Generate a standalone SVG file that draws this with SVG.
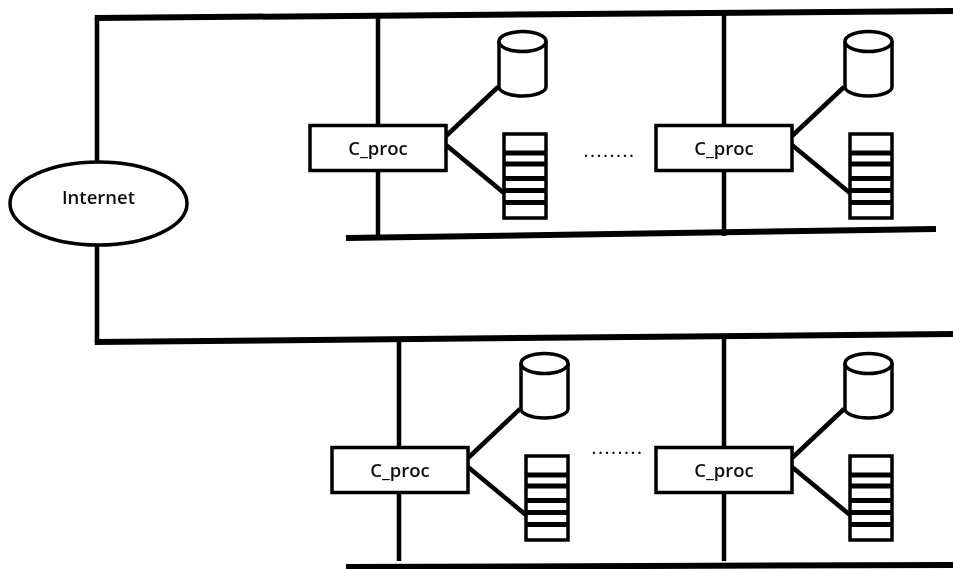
<svg xmlns="http://www.w3.org/2000/svg" width="953" height="569" viewBox="0 0 953 569">
  <defs>
    <filter id="soft" x="-5%" y="-5%" width="110%" height="110%"><feGaussianBlur stdDeviation="0.7"/></filter>
    <g id="db">
      <path class="s" d="M499 41V87C499 92 510 96 522.500 96C535 96 546 92 546 87V41"/>
      <ellipse class="s" cx="522.500" cy="41.500" rx="23.500" ry="10"/>
    </g>
    <g id="queue">
      <rect class="s" x="504" y="134" width="42" height="84"/>
      <path class="r" d="M504 153H546M504 164H546M504 178.500H546M504 190.500H546M504 202.500H546"/>
    </g>
  </defs>
  <style>
    .s{fill:#fff;stroke:#000;stroke-width:3.500}
    .r{fill:none;stroke:#000;stroke-width:5}
    .c{fill:none;stroke:#000;stroke-width:4.500}
    .b{fill:none;stroke:#000;stroke-width:6}
    text{font-family:"Open Sans","DejaVu Sans",sans-serif;font-weight:600;fill:#111;text-anchor:middle}
    .l{font-size:18.500px}
    .d{font-size:14px;font-weight:700;letter-spacing:2.500px}
  </style>
  <rect width="953" height="569" fill="#fff"/>
  <g filter="url(#soft)">
    <g id="connectors">
      <path class="b" d="M94.750 18L953 11"/>
      <path class="b" d="M94.750 342L953 334"/>
      <path class="b" d="M346 238L936 229"/>
      <path class="b" d="M346 567L953 565"/>
      <path class="c" d="M97 18V342M378 16V238M724 14V236M399 340V561M724 337V561"/>
      <path class="c" d="M446 136L498 87M446 145L504 193"/>
      <path class="c" d="M792 136L844 87M792 145L850 193"/>
      <path class="c" d="M468 458L520 409M468 467L526 515"/>
      <path class="c" d="M792 458L844 409M792 467L850 515"/>
    </g>
    <g id="internet">
      <ellipse class="s" cx="98.500" cy="203.500" rx="88.500" ry="41.500"/>
      <text class="l" x="98.500" y="204">Internet</text>
    </g>
    <g id="proc-1">
      <rect class="s" x="310" y="125.500" width="136" height="45"/>
      <text class="l" x="378" y="155">C_proc</text>
      <use href="#db"/><use href="#queue"/>
    </g>
    <g id="proc-2" transform="translate(346 0)">
      <rect class="s" x="310" y="125.500" width="136" height="45"/>
      <text class="l" x="378" y="155">C_proc</text>
      <use href="#db"/><use href="#queue"/>
    </g>
    <g id="proc-3" transform="translate(22 322)">
      <rect class="s" x="310" y="125.500" width="136" height="45"/>
      <text class="l" x="378" y="155">C_proc</text>
      <use href="#db"/><use href="#queue"/>
    </g>
    <g id="proc-4" transform="translate(346 322)">
      <rect class="s" x="310" y="125.500" width="136" height="45"/>
      <text class="l" x="378" y="155">C_proc</text>
      <use href="#db"/><use href="#queue"/>
    </g>
    <text class="d" x="610" y="157">........</text>
    <text class="d" x="618" y="454">........</text>
  </g>
</svg>
